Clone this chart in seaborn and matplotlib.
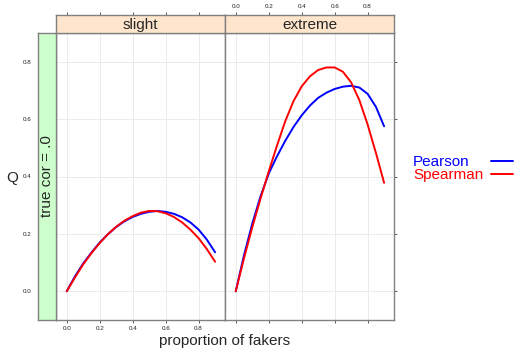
import pandas as pd
import matplotlib.pyplot as plt
import seaborn as sns
from matplotlib.lines import Line2D

# proportion of fakers (every 0.05)
fakers = [0.0, 0.05, 0.1, 0.15, 0.2, 0.25, 0.3, 0.35, 0.4, 0.45,
          0.5, 0.55, 0.6, 0.65, 0.7, 0.75, 0.8, 0.85, 0.9]

# Q values, panel "slight"
slight_pearson = [0.0, 0.052, 0.097, 0.135, 0.170, 0.199, 0.224, 0.244, 0.259, 0.270,
                  0.277, 0.280, 0.277, 0.270, 0.258, 0.240, 0.215, 0.180, 0.136]
slight_spearman = [0.0, 0.048, 0.094, 0.133, 0.168, 0.199, 0.225, 0.246, 0.262, 0.274,
                   0.280, 0.279, 0.272, 0.259, 0.240, 0.215, 0.185, 0.147, 0.103]

# Q values, panel "extreme"
extreme_pearson = [0.0, 0.125, 0.235, 0.330, 0.410, 0.470, 0.524, 0.572, 0.613, 0.647,
                   0.674, 0.692, 0.705, 0.713, 0.716, 0.710, 0.688, 0.643, 0.575]
extreme_spearman = [0.0, 0.115, 0.222, 0.322, 0.417, 0.507, 0.592, 0.662, 0.714, 0.749,
                    0.771, 0.780, 0.780, 0.765, 0.728, 0.666, 0.581, 0.483, 0.378]

panels = ["slight", "extreme"]
methods = ["Pearson", "Spearman"]
colors = {"Pearson": "#0000FF", "Spearman": "#FF0000"}
strip_label = "true cor = .0"
ticks = [0.0, 0.2, 0.4, 0.6, 0.8]

rows = []
for panel, series in [("slight", {"Pearson": slight_pearson, "Spearman": slight_spearman}),
                      ("extreme", {"Pearson": extreme_pearson, "Spearman": extreme_spearman})]:
    for m in methods:
        for x, q in zip(fakers, series[m]):
            rows.append({"panel": panel, "method": m, "fakers": x, "Q": q})
df = pd.DataFrame(rows)

sns.set_style("white")
plt.rcParams['font.family'] = ['Liberation Sans', 'DejaVu Sans']

W, H = 517, 357
fig = plt.figure(figsize=(W / 100, H / 100), dpi=100)


def box(x0, y0, x1, y1):
    # pixel box -> figure fraction
    return [x0 / W, 1 - y1 / H, (x1 - x0) / W, (y1 - y0) / H]


frame_col = "#808080"
xlim = (-0.065, 0.96)
ylim = (-0.1, 0.9)


def style_frame(ax):
    for s in ax.spines.values():
        s.set_color(frame_col)
        s.set_linewidth(1.0)


def style_ticks(ax, **kw):
    ax.tick_params(direction="out", length=2.5, width=0.6, color="#404040",
                   labelsize=4.5, labelcolor="#222222", pad=2, **kw)


x_edges = [(56, 225), (225, 394)]
for i, panel in enumerate(panels):
    x0, x1 = x_edges[i]
    ax = fig.add_axes(box(x0, 33, x1, 320))
    sns.lineplot(data=df[df.panel == panel], x="fakers", y="Q", hue="method",
                 palette=colors, linewidth=1.4, legend=False, ax=ax)
    ax.set_xlim(*xlim)
    ax.set_ylim(*ylim)
    ax.set_xticks(ticks)
    ax.set_yticks(ticks)
    ax.grid(True, color="#EBEBEB", linewidth=0.7)
    ax.set_xlabel("")
    ax.set_ylabel("")
    style_frame(ax)
    style_ticks(ax)
    ax.yaxis.set_tick_params(left=False, labelleft=False)
    if i == 0:
        ax.xaxis.set_tick_params(bottom=True, labelbottom=True)
        ax.set_xticklabels([f"{t:.1f}" for t in ticks])
    else:
        ax.xaxis.set_tick_params(bottom=True, labelbottom=False)
        ax.yaxis.set_tick_params(right=True, labelright=False)

    # strip on top
    st = fig.add_axes(box(x0, 15, x1, 33))
    st.set_facecolor("#FFE5CC")
    st.set_xlim(*xlim)
    st.set_yticks([])
    st.set_xticks(ticks)
    style_frame(st)
    style_ticks(st)
    st.xaxis.set_tick_params(bottom=False, labelbottom=False, top=True, labeltop=(i == 1))
    if i == 1:
        st.set_xticklabels([f"{t:.1f}" for t in ticks])
    st.text(0.5, 0.45, panel, transform=st.transAxes, ha="center", va="center", fontsize=11)

# left strip, carries the y axis
ls = fig.add_axes(box(38, 33, 56, 320))
ls.set_facecolor("#CCFFCC")
ls.set_ylim(*ylim)
ls.set_xticks([])
ls.set_yticks(ticks)
ls.set_yticklabels([f"{t:.1f}" for t in ticks])
style_frame(ls)
style_ticks(ls)
ls.text(0.5, 0.5, strip_label, transform=ls.transAxes, rotation=90,
        ha="center", va="center", fontsize=11)

fig.text(12 / W, 1 - 178 / H, "Q", ha="center", va="center", fontsize=11)
fig.text(225 / W, 1 - 341 / H, "proportion of fakers", ha="center", va="center", fontsize=11)

# legend on the right: coloured text, then a line key
for k, m in enumerate(methods):
    y_base = 166.5 + 13 * k
    y_line = 161.5 + 12.5 * k
    fig.text(413 / W, 1 - y_base / H, m, color=colors[m], ha="left", va="baseline", fontsize=11)
    fig.add_artist(Line2D([491 / W, 513 / W], [1 - y_line / H, 1 - y_line / H],
                          color=colors[m], linewidth=1.4, transform=fig.transFigure))

fig.savefig("out.png", dpi=100)
